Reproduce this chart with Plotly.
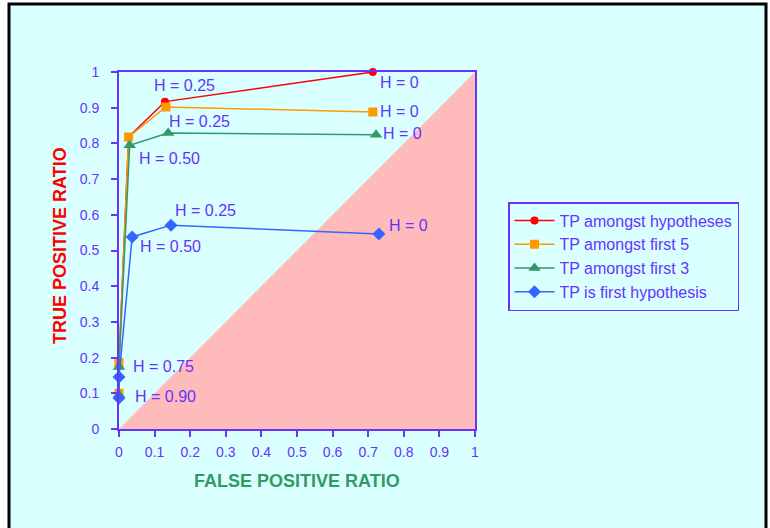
import plotly.graph_objects as go

# Data
series_names = ["TP amongst hypotheses", "TP amongst first 5", "TP amongst first 3", "TP is first hypothesis"]
red_x = [0.0, 0.0, 0.027, 0.129, 0.713]
red_y = [0.10, 0.19, 0.818, 0.917, 1.0]
orange_x = [0.0, 0.0, 0.027, 0.132, 0.713]
orange_y = [0.10, 0.185, 0.818, 0.902, 0.888]
green_x = [0.0, 0.0, 0.030, 0.138, 0.722]
green_y = [0.095, 0.174, 0.795, 0.829, 0.824]
blue_x = [0.0, 0.0, 0.037, 0.146, 0.730]
blue_y = [0.087, 0.146, 0.538, 0.571, 0.546]

label_texts = ["H = 0.25", "H = 0.25", "H = 0.50", "H = 0.25", "H = 0.50",
               "H = 0", "H = 0", "H = 0", "H = 0", "H = 0.75", "H = 0.90"]
label_x = [0.185, 0.225, 0.143, 0.244, 0.146, 0.789, 0.789, 0.795, 0.812, 0.126, 0.132]
label_y = [0.961, 0.860, 0.759, 0.613, 0.510, 0.972, 0.888, 0.829, 0.569, 0.176, 0.092]

tri_x = [0, 1, 1, 0]
tri_y = [0, 0, 1, 0]
ticks = [i / 10 for i in range(11)]
tick_labels = ["0", "0.1", "0.2", "0.3", "0.4", "0.5", "0.6", "0.7", "0.8", "0.9", "1"]

PURPLE = "#6633ff"
BG = "#d9ffff"
FONT = "Arial, Liberation Sans, sans-serif"

fig = go.Figure()
fig.add_trace(go.Scatter(x=tri_x, y=tri_y, fill="toself", fillcolor="#ffbbbb",
                         line=dict(width=0, color="#ffbbbb"), mode="lines",
                         showlegend=False, hoverinfo="skip"))

styles = [
    ("#ff0000", "circle", 8, red_x, red_y),
    ("#ff9900", "square", 9, orange_x, orange_y),
    ("#339966", "triangle-up", 11, green_x, green_y),
    ("#3366ff", "diamond", 10, blue_x, blue_y),
]
for name, (col, sym, sz, xs, ys) in zip(series_names, styles):
    fig.add_trace(go.Scatter(x=xs, y=ys, mode="lines+markers", name=name,
                             cliponaxis=False,
                             line=dict(color=col, width=1.5),
                             marker=dict(color=col, symbol=sym, size=sz, line=dict(width=0))))

for t, x, y in zip(label_texts, label_x, label_y):
    fig.add_annotation(x=x, y=y, xref="x", yref="y", text=t, showarrow=False,
                       xanchor="center", yanchor="middle",
                       font=dict(family=FONT, size=16, color=PURPLE))

# axis titles
fig.add_annotation(x=(297 - 119) / 356, y=(429 - 481) / 357, xref="paper", yref="paper",
                   xanchor="center", yanchor="middle",
                   text="<b>FALSE POSITIVE RATIO</b>", showarrow=False,
                   font=dict(family=FONT, size=18, color="#339966"))
fig.add_annotation(x=(60 - 119) / 356, y=(429 - 246) / 357, xref="paper", yref="paper",
                   xanchor="center", yanchor="middle",
                   text="<b>TRUE POSITIVE RATIO</b>", showarrow=False, textangle=-90,
                   font=dict(family=FONT, size=18, color="#ff0000"))

# outer frame
fig.add_shape(type="rect", xref="paper", yref="paper",
              x0=(9 - 119) / 356, x1=(766 - 119) / 356,
              y0=(429 - 540) / 357, y1=(429 - 4) / 357,
              line=dict(color="black", width=3), fillcolor=BG, layer="below")

axis_common = dict(range=[0, 1], tickvals=ticks, ticktext=tick_labels, showgrid=False,
                   zeroline=False, showline=True, linecolor=PURPLE, linewidth=2,
                   mirror=True, ticks="outside", tickcolor=PURPLE, ticklen=6, tickwidth=1.5,
                   tickfont=dict(family=FONT, size=14, color=PURPLE), fixedrange=True)
fig.update_xaxes(**axis_common, ticklabelstandoff=3)
fig.update_yaxes(**axis_common, ticklabelstandoff=9)

fig.update_layout(
    width=770, height=528,
    margin=dict(l=119, r=295, t=72, b=99),
    paper_bgcolor="white", plot_bgcolor=BG,
    legend=dict(x=(508 - 119) / 356, y=(429 - 202) / 357, xanchor="left", yanchor="top",
                bgcolor=BG, bordercolor=PURPLE, borderwidth=1.5,
                font=dict(family=FONT, size=16, color=PURPLE), itemwidth=40,
                tracegroupgap=0),
    showlegend=True,
)

fig.write_html("out.html", config={"displayModeBar": False},
               post_script="document.body.style.margin='0';")
